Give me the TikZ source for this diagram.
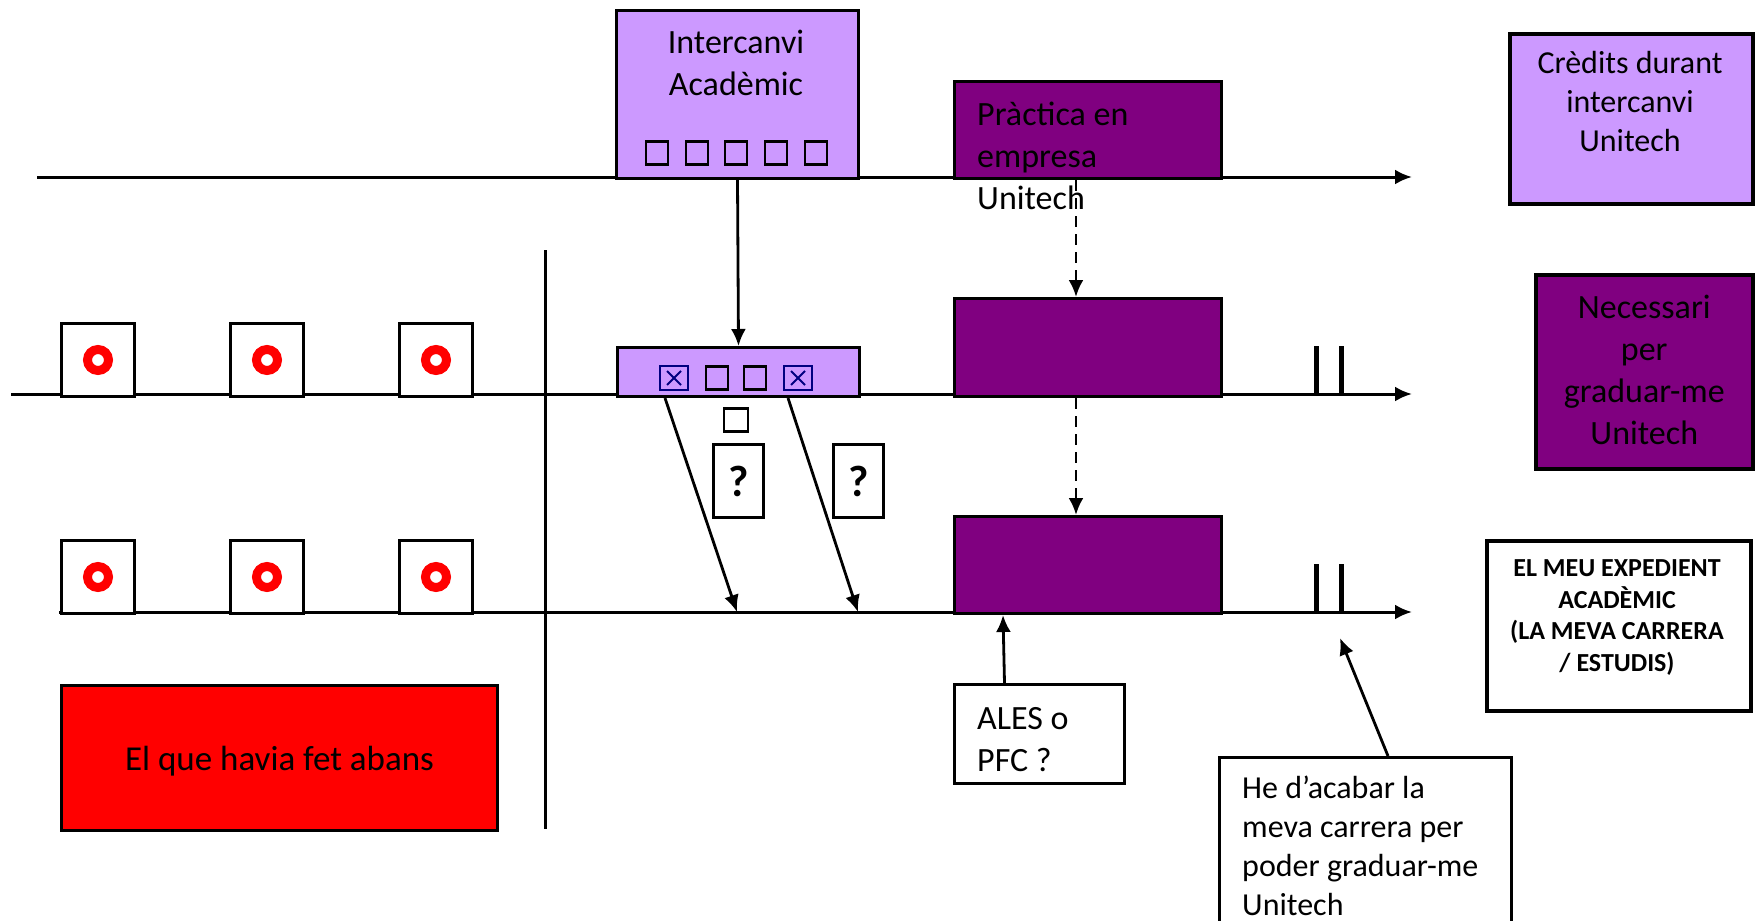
\documentclass[tikz,border=0pt]{standalone}
\usepackage{fontspec}
\setmainfont{Carlito}
\usetikzlibrary{arrows.meta, positioning}

\definecolor{lila}{HTML}{CC99FF}
\definecolor{morat}{HTML}{800080}
\definecolor{blaufosc}{HTML}{000080}

\newcommand{\lletra}{\fontsize{34}{42}\selectfont}
\newcommand{\lletrapetita}{\fontsize{32}{39}\selectfont}
\newcommand{\lletranegreta}{\fontsize{26}{31.5}\selectfont\bfseries}

\begin{document}
\begin{tikzpicture}[x=1pt,y=-1pt,
    eix/.style={line width=3pt,-{Latex[length=17pt,width=15pt]}},
    fletxa/.style={line width=2.8pt,-{Latex[length=17pt,width=15pt]}},
    caixa/.style={draw,line width=3pt,inner sep=0pt,anchor=north west},
    rotul/.style={inner sep=0pt,font=\lletra},
    quadret/.style={draw,line width=2.5pt,inner sep=0pt,minimum width=22pt,minimum height=23pt},
    marcat/.style={quadret,draw=blaufosc,minimum width=28pt,minimum height=24pt,
        path picture={\draw[blaufosc,line width=2pt]
            ([shift={(-7pt,-7pt)}]path picture bounding box.center) -- ([shift={(7pt,7pt)}]path picture bounding box.center)
            ([shift={(-7pt,7pt)}]path picture bounding box.center) -- ([shift={(7pt,-7pt)}]path picture bounding box.center);}},
    fitxa/.style={caixa,fill=white,minimum width=73pt,minimum height=73pt},
    anella/.style={circle,draw=red,line width=9pt,minimum size=21pt,inner sep=0pt},
    interrog/.style={inner sep=0pt,font=\fontsize{44}{48}\selectfont\bfseries}]

    \useasboundingbox (0,0) rectangle (1757,921);

    %%% EIXOS %%%
    \coordinate (e1a) at (37,177);  \coordinate (e1b) at (1412,177);
    \coordinate (e2a) at (11,394);  \coordinate (e2b) at (1412,394);
    \coordinate (e3a) at (59,612);  \coordinate (e3b) at (1412,612);
    \draw[eix] (e1a) -- (e1b);
    \draw[eix] (e2a) -- (e2b);
    \draw[eix] (e3a) -- (e3b);

    % separador
    \coordinate (sepa) at (545,250);
    \coordinate (sepb) at (545,829);
    \draw[line width=3pt] (sepa) -- (sepb);

    % barres finals
    \foreach \y in {394,612}{
        \draw[line width=5pt] (1316,\y) -- ++(0,-48);
        \draw[line width=5pt] (1341,\y) -- ++(0,-48);
    }

    %%% CAIXES %%%
    % el que havia fet abans
    \foreach \x [count=\i] in {60,229,398}{
        \node[fitxa] (dalt\i) at (\x,322) {};
        \node[anella] (anda\i) at (dalt\i.center) {};
        \node[fitxa] (baix\i) at (\x,539) {};
        \node[anella] (anba\i) at (baix\i.center) {};
    }
    \node[caixa,fill=red,minimum width=436pt,minimum height=145pt] (abans) at (60,684) {};
    \node[rotul,font=\fontsize{35}{42}\selectfont] (tabans) at ([yshift=-3.5pt]abans.center) {El que havia fet abans};

    % intercanvi
    \node[caixa,fill=lila,minimum width=242pt,minimum height=168pt] (intercanvi) at (615,9) {};
    \node[rotul,align=center] (tinter) at (736,63) {Intercanvi\\Acadèmic};
    \foreach \x in {657,697,736,776,816}
        \node[quadret] (sup\x) at (\x,153) {};

    \node[caixa,fill=lila,minimum width=242pt,minimum height=49pt] (convalida) at (616,346) {};
    \node[marcat]  (conv1) at (674,378) {};
    \node[quadret] (conv2) at (717,378) {};
    \node[quadret] (conv3) at (755,378) {};
    \node[marcat]  (conv4) at (798,378) {};
    \node[quadret,minimum width=24pt] (solt) at (736,420) {};

    \node[caixa,minimum width=50pt,minimum height=73pt] (preg1) at (712,443) {};
    \node[interrog] (tpreg1) at (preg1.center) {?};
    \node[caixa,minimum width=50pt,minimum height=73pt] (preg2) at (832,443) {};
    \node[interrog] (tpreg2) at (preg2.center) {?};

    % practica
    \node[caixa,fill=morat,minimum width=267pt,minimum height=97pt] (practica) at (953,80) {};
    \node[rotul,align=left,anchor=north west] (tpract) at (977,101.5) {Pràctica en\\empresa\\Unitech};
    \node[caixa,fill=morat,minimum width=267pt,minimum height=98pt] (pract2) at (953,297) {};
    \node[caixa,fill=morat,minimum width=267pt,minimum height=97pt] (pract3) at (953,515) {};

    \node[caixa,fill=white,minimum width=170pt,minimum height=99pt] (ales) at (953,683) {};
    \node[rotul,align=left,anchor=north west] (tales) at (977,707) {ALES o\\PFC ?};

    \node[caixa,fill=white,minimum width=292pt,minimum height=169pt] (acabar) at (1218,756) {};
    \node[rotul,font=\lletrapetita,align=left,anchor=north west] (tacabar) at (1242,776)
        {He d’acabar la\\meva carrera per\\poder graduar-me\\Unitech};
    \coordinate (fi) at (1340,638);

    % llegenda
    \node[caixa,fill=lila,line width=3.5pt,minimum width=243pt,minimum height=170pt] (credits) at (1508,32) {};
    \node[rotul,font=\lletrapetita,align=center,anchor=north] (tcredits) at (1630,51)
        {Crèdits durant\\intercanvi\\Unitech};
    \node[caixa,fill=morat,line width=3.5pt,minimum width=217pt,minimum height=194pt] (necessari) at (1534,273) {};
    \node[rotul,align=center] (tneces) at ([yshift=2pt]necessari.center) {Necessari\\per\\graduar-me\\Unitech};
    \node[caixa,fill=white,line width=3.5pt,minimum width=264pt,minimum height=170pt] (expedient) at (1485,539) {};
    \node[rotul,font=\lletranegreta,align=center] (texped) at (1617,617.5)
        {EL MEU EXPEDIENT\\ACADÈMIC\\(LA MEVA CARRERA\\/ ESTUDIS)};

    %%% FLETXES %%%
    \draw[fletxa] (intercanvi.south) -- (convalida.north);
    \draw[fletxa] ([xshift=49pt]convalida.south west) -- (737,612);
    \draw[fletxa] ([xshift=-73pt]convalida.south east) -- (858,612);
    \draw[fletxa,dash pattern=on 11pt off 7pt]
        ([xshift=-12pt]practica.south) -- ([xshift=-12pt]pract2.north);
    \draw[fletxa,dash pattern=on 11pt off 7pt]
        ([xshift=-12pt]pract2.south) -- ([xshift=-12pt]pract3.north);
    \draw[fletxa] ([xshift=-35pt]ales.north) -- ([xshift=50pt]pract3.south west);
    \draw[fletxa] ([xshift=170pt]acabar.north west) -- (fi);
\end{tikzpicture}
\end{document}
